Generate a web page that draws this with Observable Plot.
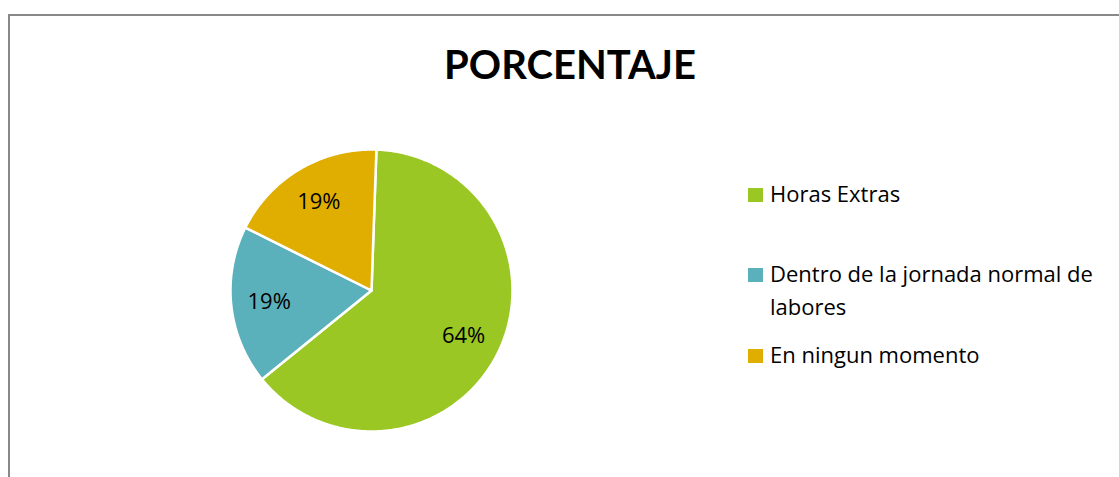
<!DOCTYPE html>
<html>
<head>
<meta charset="utf-8">
<script src="https://cdn.jsdelivr.net/npm/d3@7"></script>
<script src="https://cdn.jsdelivr.net/npm/@observablehq/plot@0.6"></script>
<style>
  html, body { margin: 0; padding: 0; background: #fff; }
  #root { position: relative; width: 1119px; height: 477px; overflow: hidden; font-family: Lato, "Open Sans", sans-serif; }
  #frame { position: absolute; left: 8px; top: 14px; width: 1200px; height: 600px; border-left: 2px solid #898989; border-top: 2px solid #898989; }
  #title { position: absolute; left: 0; width: 1140px; top: 39px; line-height: 50px; text-align: center; font-weight: bold; font-size: 40px; color: #000; }
  #pie { position: absolute; left: 221px; top: 140px; }
  .leg { position: absolute; left: 770px; width: 345px; font-family: "Open Sans", sans-serif; font-size: 22px; line-height: 33px; color: #000; }
  .sw { position: absolute; left: 748px; width: 15px; height: 14px; }
</style>
</head>
<body>
<div id="root">
  <div id="frame"></div>
  <div id="title">PORCENTAJE</div>
  <div id="pie"></div>
</div>
<script>
const title = "PORCENTAJE";
const categories = ["Horas Extras", "Dentro de la jornada normal de labores", "En ningun momento"];
const values = [63.6, 18.2, 18.2];
const labels = ["64%", "19%", "19%"];
const colors = ["#9ac724", "#5bb1bb", "#dfae00"];

const startDeg = 2;
const arcs = d3.pie().sort(null)
  .startAngle(startDeg * Math.PI / 180)
  .endAngle((360 + startDeg) * Math.PI / 180)(values);

// polygon points for each slice (unit circle, angle clockwise from top)
const polys = [];
arcs.forEach((a, i) => {
  const cat = categories[i];
  polys.push({cat, x: 0, y: 0});
  const n = Math.max(2, Math.ceil((a.endAngle - a.startAngle) / (Math.PI / 360)));
  for (let k = 0; k <= n; k++) {
    const t = a.startAngle + (a.endAngle - a.startAngle) * k / n;
    polys.push({cat, x: Math.sin(t), y: Math.cos(t)});
  }
  polys.push({cat, x: 0, y: 0});
});
const labelPts = arcs.map((a, i) => {
  const m = (a.startAngle + a.endAngle) / 2;
  return {text: labels[i], x: 0.73 * Math.sin(m), y: 0.73 * Math.cos(m)};
});

const plot = Plot.plot({
  width: 300, height: 300, margin: 0,
  x: {domain: [-1, 1], range: [9, 291], axis: null},
  y: {domain: [-1, 1], range: [291, 9], axis: null},
  color: {domain: categories, range: colors},
  style: {background: "transparent", fontFamily: "'Open Sans', sans-serif"},
  marks: [
    Plot.line(polys, {x: "x", y: "y", z: "cat", fill: "cat", stroke: "#fff", strokeWidth: 2.5, strokeLinejoin: "round", curve: "linear"}),
    Plot.text(labelPts, {x: "x", y: "y", text: "text", fontSize: 22, fill: "#000"})
  ]
});
document.getElementById("pie").appendChild(plot);
document.getElementById("title").textContent = title;

const root = document.getElementById("root");
const legTops = [177, 257, 338];
categories.forEach((c, i) => {
  const sw = document.createElement("div");
  sw.className = "sw";
  sw.style.top = (legTops[i] + 11) + "px";
  sw.style.background = colors[i];
  root.appendChild(sw);
  const t = document.createElement("div");
  t.className = "leg";
  t.style.top = legTops[i] + "px";
  t.textContent = c;
  root.appendChild(t);
});
</script>
</body>
</html>
